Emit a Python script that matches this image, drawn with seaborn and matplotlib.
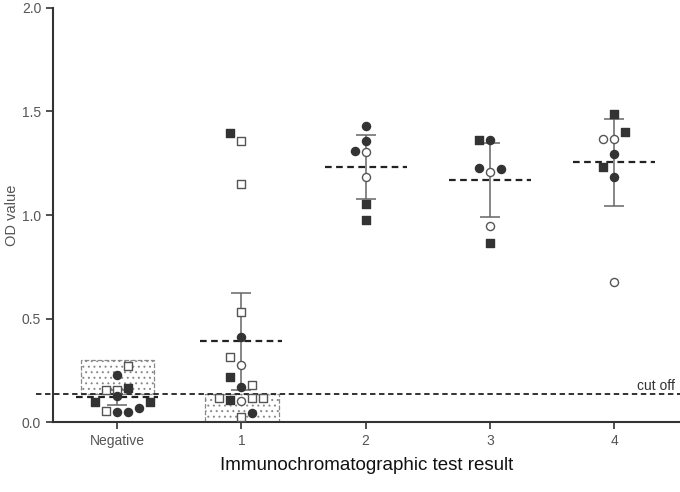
import matplotlib
matplotlib.use("Agg")
import matplotlib.pyplot as plt
from matplotlib.patches import Rectangle
import pandas as pd
import seaborn as sns

# categories on the x axis
GROUPS = ['Negative', '1', '2', '3', '4']

# OD values per group, marker kind per point, and the swarm column it sits in
NEG_OD = [0.27, 0.226, 0.155, 0.155, 0.163, 0.125, 0.096, 0.096, 0.067, 0.053, 0.048, 0.048]
NEG_KIND = ['os', 'fc', 'os', 'os', 'fs', 'fc', 'fs', 'fs', 'fc', 'os', 'fc', 'fc']
NEG_COL = [1, 0, -1, 0, 1, 0, -2, 3, 2, -1, 0, 1]

G1_OD = [1.394, 1.356, 1.149, 0.534, 0.413, 0.313, 0.274, 0.216, 0.168, 0.178,
         0.115, 0.115, 0.115, 0.105, 0.10, 0.043, 0.024]
G1_KIND = ['fs', 'os', 'os', 'os', 'fc', 'os', 'oc', 'fs', 'fc', 'os',
           'os', 'os', 'os', 'fs', 'oc', 'fc', 'os']
G1_COL = [-1, 0, 0, 0, 0, -1, 0, -1, 0, 1, -2, 1, 2, -1, 0, 1, 0]

G2_OD = [1.428, 1.356, 1.308, 1.303, 1.183, 1.053, 0.976]
G2_KIND = ['fc', 'fc', 'fc', 'oc', 'oc', 'fs', 'fs']
G2_COL = [0, 0, -1, 0, 0, 0, 0]

G3_OD = [1.36, 1.36, 1.226, 1.21, 1.22, 0.947, 0.865]
G3_KIND = ['fs', 'fc', 'fc', 'oc', 'fc', 'oc', 'fs']
G3_COL = [-1, 0, -1, 0, 1, 0, 0]

G4_OD = [1.49, 1.40, 1.365, 1.365, 1.293, 1.23, 1.183, 0.678]
G4_KIND = ['fs', 'fs', 'oc', 'oc', 'fc', 'fs', 'fc', 'oc']
G4_COL = [0, 1, -1, 0, 0, -1, 0, 0]

# mean and SD per group as drawn
MEANS = [0.12, 0.39, 1.231, 1.168, 1.255]
SDS = [0.035, 0.235, 0.154, 0.18, 0.21]

CUT_OFF = 0.135
# shaded ranges: (group, low, high)
SHADE_GROUP = [0, 1]
SHADE_LOW = [0.135, 0.0]
SHADE_HIGH = [0.298, 0.135]

DARK = '#333333'
GRAY = '#555555'
COL_STEP = 0.088

MARKERS = {
    'fs': dict(marker='s', facecolor=DARK, edgecolor=DARK),
    'os': dict(marker='s', facecolor='white', edgecolor=GRAY),
    'fc': dict(marker='o', facecolor=DARK, edgecolor=DARK),
    'oc': dict(marker='o', facecolor='white', edgecolor=GRAY),
}


def build_frame():
    rows = []
    groups = [(NEG_OD, NEG_KIND, NEG_COL), (G1_OD, G1_KIND, G1_COL),
              (G2_OD, G2_KIND, G2_COL), (G3_OD, G3_KIND, G3_COL),
              (G4_OD, G4_KIND, G4_COL)]
    for i, (vals, kinds, cols) in enumerate(groups):
        for v, k, c in zip(vals, kinds, cols):
            rows.append({'group': i, 'od': v, 'kind': k, 'x': i + c * COL_STEP})
    return pd.DataFrame(rows)


df = build_frame()

sns.set_style("ticks")
plt.rcParams['font.family'] = ['Liberation Sans', 'DejaVu Sans']
plt.rcParams['hatch.color'] = '#bbbbbb'
plt.rcParams['hatch.linewidth'] = 0.7

fig = plt.figure(figsize=(6.8, 4.92), dpi=100)
ax = fig.add_axes([0.078, 0.142, 0.922, 0.842])

# shaded boxes
for g, lo, hi in zip(SHADE_GROUP, SHADE_LOW, SHADE_HIGH):
    ax.add_patch(Rectangle((g - 0.29, lo), 0.59, hi - lo, facecolor='white',
                           edgecolor='#888888', hatch='...', linestyle='--',
                           linewidth=0.9, zorder=1))

# cut off line
ax.plot([-0.65, 4.58], [CUT_OFF, CUT_OFF], linestyle=(0, (3, 2)), color='#222222',
        linewidth=1.3, clip_on=False, zorder=2)
ax.text(4.49, CUT_OFF + 0.04, 'cut off', ha='right', va='center', fontsize=10, color='#333333')

# mean lines and SD bars
xs = list(range(len(GROUPS)))
ax.hlines(MEANS, [x - 0.33 for x in xs], [x + 0.33 for x in xs], colors='#222222',
          linestyles=(0, (3, 2)), linewidth=1.6, zorder=3)
ax.errorbar(xs, MEANS, yerr=SDS, fmt='none', ecolor='#666666', elinewidth=1.1,
            capsize=7, capthick=1.1, zorder=3)

for kind, style in MARKERS.items():
    sub = df[df['kind'] == kind]
    sns.scatterplot(data=sub, x='x', y='od', ax=ax, marker=style['marker'], s=34,
                    facecolor=style['facecolor'], edgecolor=style['edgecolor'],
                    linewidth=1.0, zorder=4, legend=False)

ax.set_xlim(-0.515, 4.53)
ax.set_ylim(0, 2.0)
ax.set_yticks([0.0, 0.5, 1.0, 1.5, 2.0])
ax.set_yticklabels(['0.0', '0.5', '1.0', '1.5', '2.0'])
ax.set_xticks(xs)
ax.set_xticklabels(GROUPS)
ax.tick_params(axis='both', labelsize=10, labelcolor='#555555', color='#333333',
               width=1.2, length=5)
ax.set_xlabel('Immunochromatographic test result', fontsize=13.5, color='#111111')
ax.xaxis.set_label_coords(0.5, -0.085)
ax.set_ylabel('OD value', fontsize=10.5, color='#555555')
ax.yaxis.set_label_coords(-0.054, 0.5)
for side in ['left', 'bottom']:
    ax.spines[side].set_linewidth(1.5)
    ax.spines[side].set_color('#333333')
sns.despine(ax=ax)

fig.savefig('out.png', dpi=100, facecolor='white')
